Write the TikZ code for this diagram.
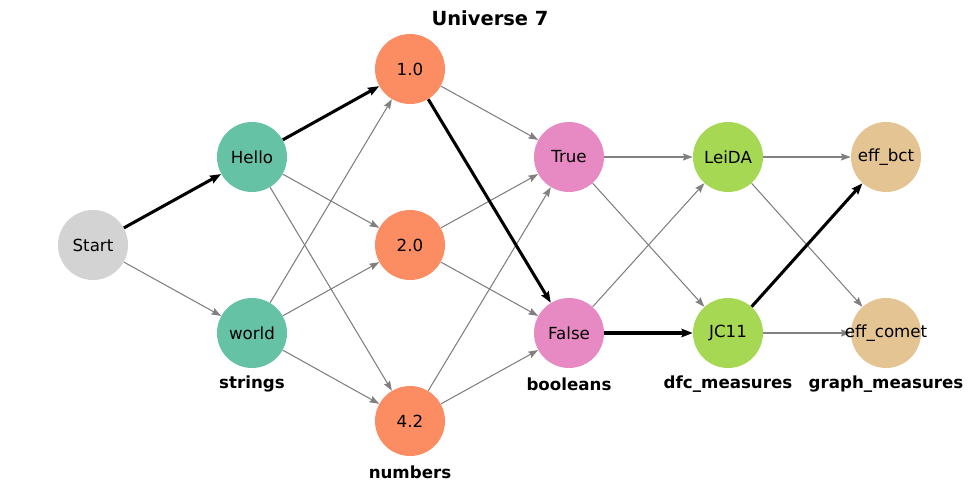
\documentclass[tikz,border=0pt]{standalone}
\usepackage{fontspec}
\setmainfont{DejaVu Sans}
\usepackage{xcolor}
\usepackage{tikz}
\usetikzlibrary{arrows.meta,positioning,backgrounds}
\definecolor{startgray}{RGB}{211,211,211}
\definecolor{strgreen}{RGB}{102,194,165}
\definecolor{numorange}{RGB}{252,141,98}
\definecolor{boolpink}{RGB}{231,138,195}
\definecolor{dfclime}{RGB}{166,216,84}
\definecolor{graphtan}{RGB}{229,196,148}
\definecolor{edgegray}{RGB}{128,128,128}

\begin{document}
\begin{tikzpicture}[
  x=0.72pt, y=-0.72pt,
  vertex/.style={circle, minimum size=50.4pt, inner sep=0pt,
    label={[font=\fontsize{12}{14}\selectfont]center:#1}},
  group/.style={font=\fontsize{12}{14}\selectfont\bfseries},
  arrow/.style={-{Stealth[length=7pt,width=5pt,inset=1pt]}, draw=edgegray, fill=edgegray, line width=0.75pt},
  path/.style={-{Stealth[length=8pt,width=6pt,inset=1pt]}, draw=black, fill=black, line width=2.2pt}
]
\useasboundingbox (0,0) rectangle (980,491);
\node[font=\fontsize{14}{16}\selectfont\bfseries] (title) at (490,18) {Universe 7};

\node[vertex=Start, fill=startgray] (start) at (93,245) {};
\node[vertex=Hello, fill=strgreen] (hello) at (252,157) {};
\node[vertex=world, fill=strgreen] (world) at (252,333) {};
\node[vertex=1.0, fill=numorange] (n10) at (410,69) {};
\node[vertex=2.0, fill=numorange] (n20) at (410,245) {};
\node[vertex=4.2, fill=numorange] (n42) at (410,421) {};
\node[vertex=True, fill=boolpink] (true) at (569,157) {};
\node[vertex=False, fill=boolpink] (false) at (569,333) {};
\node[vertex=LeiDA, fill=dfclime] (leida) at (728,157) {};
\node[vertex=JC11, fill=dfclime] (jc11) at (728,333) {};
\node[vertex=eff\_bct, fill=graphtan] (effbct) at (886,157) {};
\node[vertex=eff\_comet, fill=graphtan] (effcomet) at (886,333) {};

\node[group] (strings) at (252,384) {strings};
\node[group] (numbers) at (410,472) {numbers};
\node[group] (booleans) at (569,384) {booleans};
\node[group] (dfc) at (728,384) {dfc\_measures};
\node[group] (graphm) at (886,384) {graph\_measures};

\begin{pgfonlayer}{background}
% gray edges
\draw[arrow] (start) -- (world);
\draw[arrow] (hello) -- (n20);
\draw[arrow] (hello) -- (n42);
\draw[arrow] (world) -- (n10);
\draw[arrow] (world) -- (n20);
\draw[arrow] (world) -- (n42);
\draw[arrow] (n10) -- (true);
\draw[arrow] (n20) -- (true);
\draw[arrow] (n20) -- (false);
\draw[arrow] (n42) -- (true);
\draw[arrow] (n42) -- (false);
\draw[arrow] (true) -- (leida);
\draw[arrow] (true) -- (jc11);
\draw[arrow] (false) -- (leida);
\draw[arrow] (leida) -- (effbct);
\draw[arrow] (leida) -- (effcomet);
\draw[arrow] (jc11) -- (effcomet);
% highlighted path
\draw[path] (start) -- (hello);
\draw[path] (hello) -- (n10);
\draw[path] (n10) -- (false);
\draw[path] (false) -- (jc11);
\draw[path] (jc11) -- (effbct);
\end{pgfonlayer}
\end{tikzpicture}
\end{document}
